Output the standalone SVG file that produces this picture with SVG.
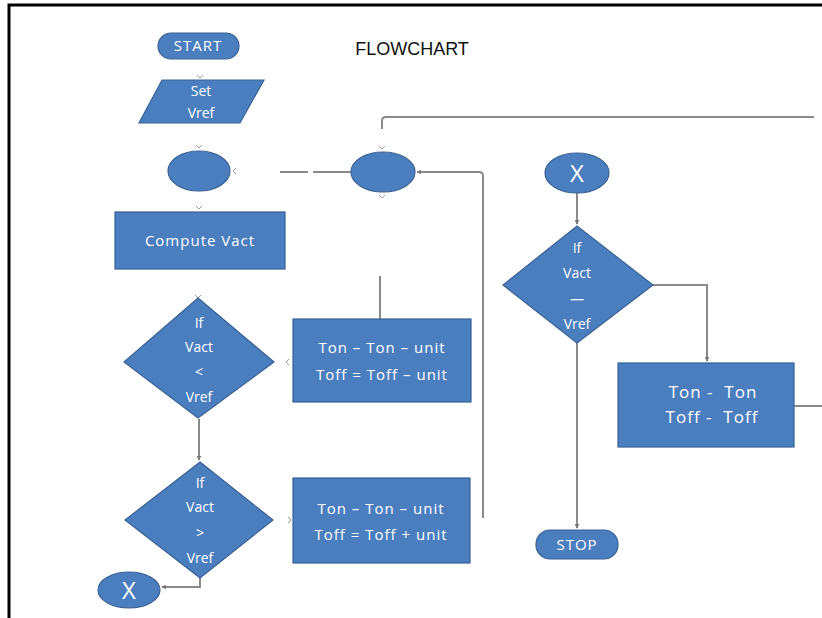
<svg xmlns="http://www.w3.org/2000/svg" width="822" height="618" viewBox="0 0 822 618">
<style>
.shape{fill:#4a7ebf;stroke:#3a6296;stroke-width:1.2}
.txt{font-family:"Open Sans","Liberation Sans",sans-serif;fill:#ffffff;font-size:14px;text-anchor:middle}
.wide{font-size:15px;letter-spacing:1px}
.wider{font-size:17px;letter-spacing:1px;white-space:pre}
.big{font-size:24px}
.conn{fill:none;stroke:#8a8a8a;stroke-width:2}
.tick{fill:none;stroke:#9a9a9a;stroke-width:1}
.title{font-family:"Liberation Sans",Arial,sans-serif;font-size:18px;fill:#111}
</style>
<defs>
<marker id="ah" viewBox="0 0 8 8" refX="7" refY="4" markerWidth="5" markerHeight="5" orient="auto" markerUnits="userSpaceOnUse">
<path d="M0,0 L8,4 L0,8 z" fill="#7a7a7a"/>
</marker>
<path id="chev" d="M-3,-3 L0,0 L3,-3" class="tick"/>
</defs>
<rect width="822" height="618" fill="#ffffff"/>
<path d="M9,618 V5 H822" fill="none" stroke="#000" stroke-width="3"/>
<text class="title" x="412" y="55" text-anchor="middle">FLOWCHART</text>

<g id="connectors">
<path class="conn" d="M280,172 H308 M313,172 H352"/>
<path class="conn" d="M380,276 V319"/>
<path class="conn" d="M483,518 V176 Q483,172 479,172 H417" marker-end="url(#ah)"/>
<path class="conn" d="M814,117 H386 Q382,117 382,121 V129"/>
<path class="conn" d="M199,419 V460" marker-end="url(#ah)"/>
<path class="conn" d="M200,578 V587 H162" marker-end="url(#ah)"/>
<path class="conn" d="M577,193 V224" marker-end="url(#ah)"/>
<path class="conn" d="M653,285 H707 V361" marker-end="url(#ah)"/>
<path class="conn" d="M577,343 V528" marker-end="url(#ah)"/>
<path class="conn" d="M794,406 H822"/>
<use href="#chev" transform="translate(200,78)"/>
<use href="#chev" transform="translate(199,148)"/>
<use href="#chev" transform="translate(233,171) rotate(90)"/>
<use href="#chev" transform="translate(199,209)"/>
<use href="#chev" transform="translate(198,298)"/>
<use href="#chev" transform="translate(382,149)"/>
<use href="#chev" transform="translate(382,198)"/>
<use href="#chev" transform="translate(286,362) rotate(90)"/>
<use href="#chev" transform="translate(291,520) rotate(-90)"/>
</g>

<g id="start">
<rect class="shape" x="158" y="33" width="81" height="26" rx="13"/>
<text class="txt wide" x="198" y="51">START</text>
</g>

<g id="set-vref">
<polygon class="shape" points="162,80 264,80 240,123 139,123"/>
<text class="txt" x="201" y="96">Set</text>
<text class="txt" x="201" y="118">Vref</text>
</g>

<g id="connector-left">
<ellipse class="shape" cx="199" cy="171" rx="31" ry="20"/>
</g>

<g id="connector-mid">
<ellipse class="shape" cx="383" cy="172" rx="32" ry="20"/>
</g>

<g id="compute-vact">
<rect class="shape" x="115" y="212" width="170" height="57"/>
<text class="txt wide" x="200" y="246">Compute Vact</text>
</g>

<g id="decision-less">
<polygon class="shape" points="198,298 274,362 198,418 124,362"/>
<text class="txt" x="199" y="328">If</text>
<text class="txt" x="199" y="352">Vact</text>
<text class="txt" x="199" y="377">&lt;</text>
<text class="txt" x="199" y="402">Vref</text>
</g>

<g id="update-less">
<rect class="shape" x="293" y="319" width="178" height="83"/>
<text class="txt wide" x="382" y="353">Ton – Ton – unit</text>
<text class="txt wide" x="382" y="380">Toff = Toff – unit</text>
</g>

<g id="decision-greater">
<polygon class="shape" points="200,462 273,520 200,578 125,520"/>
<text class="txt" x="200" y="488">If</text>
<text class="txt" x="200" y="512">Vact</text>
<text class="txt" x="200" y="538">&gt;</text>
<text class="txt" x="200" y="563">Vref</text>
</g>

<g id="update-greater">
<rect class="shape" x="293" y="478" width="177" height="85"/>
<text class="txt wide" x="381" y="514">Ton – Ton – unit</text>
<text class="txt wide" x="381" y="540">Toff = Toff + unit</text>
</g>

<g id="x-out">
<ellipse class="shape" cx="129" cy="590" rx="31" ry="18"/>
<text class="txt big" x="129" y="599">X</text>
</g>

<g id="x-in">
<ellipse class="shape" cx="577" cy="173" rx="32" ry="20"/>
<text class="txt big" x="577" y="182">X</text>
</g>

<g id="decision-equal">
<polygon class="shape" points="577,226 653,285 577,343 503,285"/>
<text class="txt" x="577" y="253">If</text>
<text class="txt" x="577" y="278">Vact</text>
<text class="txt" x="577" y="304">—</text>
<text class="txt" x="577" y="329">Vref</text>
</g>

<g id="update-equal">
<rect class="shape" x="618" y="363" width="176" height="84"/>
<text class="txt wider" x="713" y="398">Ton -  Ton</text>
<text class="txt wider" x="712" y="423">Toff -  Toff</text>
</g>

<g id="stop">
<rect class="shape" x="536" y="530" width="82" height="29" rx="14"/>
<text class="txt wide" x="577" y="550">STOP</text>
</g>
</svg>
